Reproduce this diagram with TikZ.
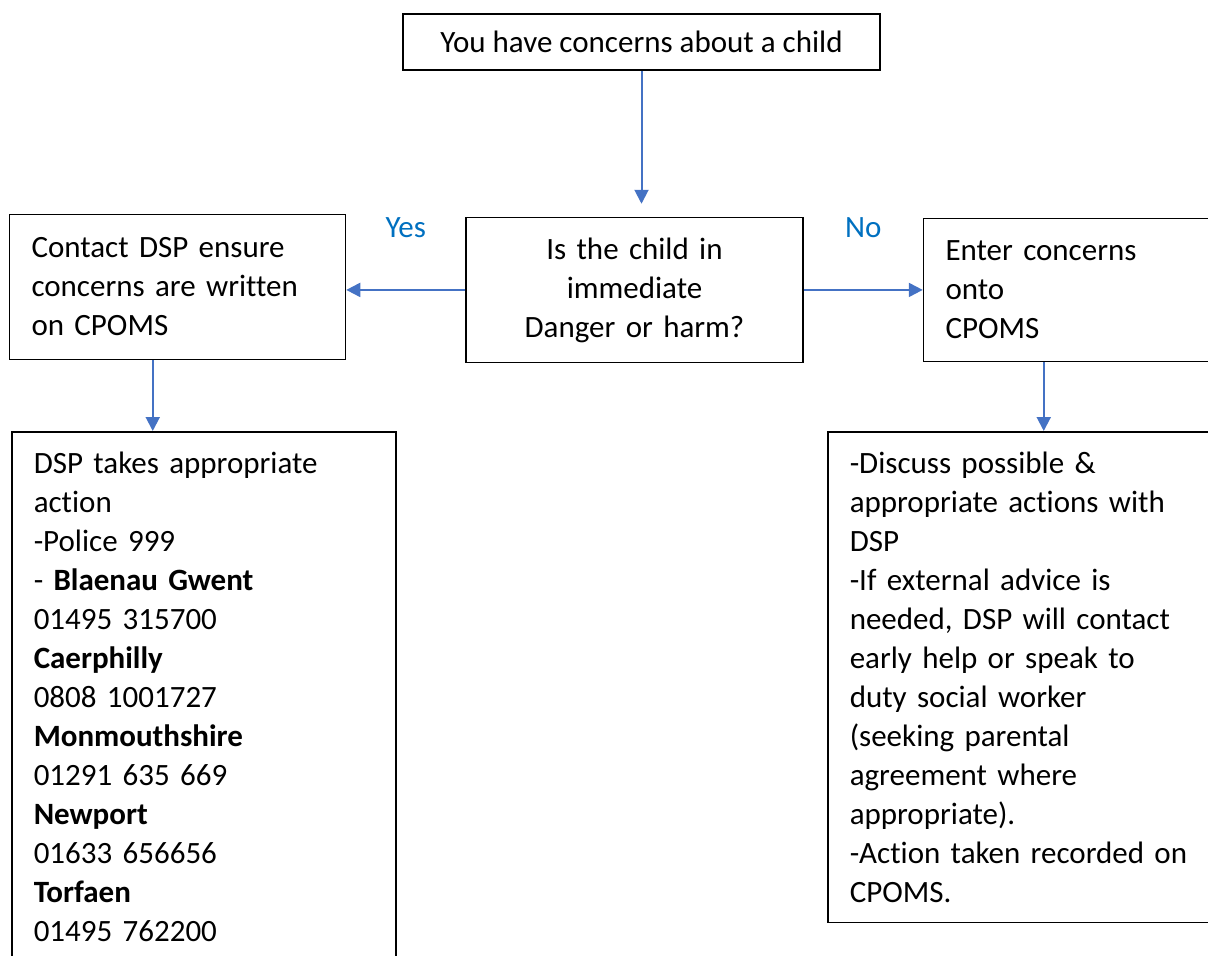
\documentclass[tikz,border=0pt]{standalone}
\usepackage{fontspec}
\setmainfont[Ligatures=NoCommon]{Carlito}
\usetikzlibrary{arrows.meta, positioning}
\definecolor{flowblue}{HTML}{4472C4}
\definecolor{answerblue}{HTML}{0070C0}

\begin{document}
\begin{tikzpicture}[
        x=1pt, y=-1pt,
        font=\fontsize{31}{39}\selectfont,
        box/.style={rectangle, draw=black, line width=1.5pt, inner xsep=22pt, inner ysep=20pt, align=left},
        arrow/.style={-{Triangle[length=14pt, width=14pt]}, draw=flowblue, line width=2pt},
        answer/.style={text=answerblue, inner sep=0pt}
    ]
    \useasboundingbox (0,0) rectangle (1208,956);

    % Nodes
    \node[box, align=center, minimum width=477pt, minimum height=56pt, inner ysep=0pt] (concern) at (641.5,42) {You have concerns about a child};
    \node[box, align=center, text width=293pt, minimum height=143pt, below=146pt of concern, xshift=-7pt] (danger) {Is the child in\\immediate\\Danger or harm?};
    \node[box, text width=292pt, minimum height=145pt, left=119pt of danger, yshift=3pt] (contact) {Contact DSP ensure\\concerns are written\\on CPOMS};
    \node[box, text width=340pt, minimum height=143pt, right=119pt of danger] (enter) {Enter concerns\\onto\\CPOMS};
    \node[box, text width=340pt, anchor=north west] (action) at (11,431) {DSP takes appropriate\\action\\-Police 999\\- \textbf{Blaenau Gwent}\\01495 315700\\\textbf{Caerphilly}\\0808 1001727\\\textbf{Monmouthshire}\\01291 635 669\\\textbf{Newport}\\01633 656656\\\textbf{Torfaen}\\01495 762200};
    \node[box, text width=400pt, anchor=north west] (discuss) at (827,431) {-Discuss possible \&\\appropriate actions with\\DSP\\-If external advice is\\needed, DSP will contact\\early help or speak to\\duty social worker\\(seeking parental\\agreement where\\appropriate).\\-Action taken recorded on\\CPOMS.};

    \coordinate (leftdrop) at ([xshift=144pt]contact.south west);
    \coordinate (rightdrop) at ([xshift=121pt]enter.south west);

    % Arrows
    \draw[arrow, shorten >=13pt] (concern.south) -- (concern.south |- danger.north);
    \draw[arrow] (danger.west) -- node[answer, above=51pt] {Yes} (danger.west -| contact.east);
    \draw[arrow] (danger.east) -- node[answer, above=51pt] {No} (danger.east -| enter.west);
    \draw[arrow] (leftdrop) -- (leftdrop |- action.north);
    \draw[arrow] (rightdrop) -- (rightdrop |- discuss.north);

\end{tikzpicture}
\end{document}
